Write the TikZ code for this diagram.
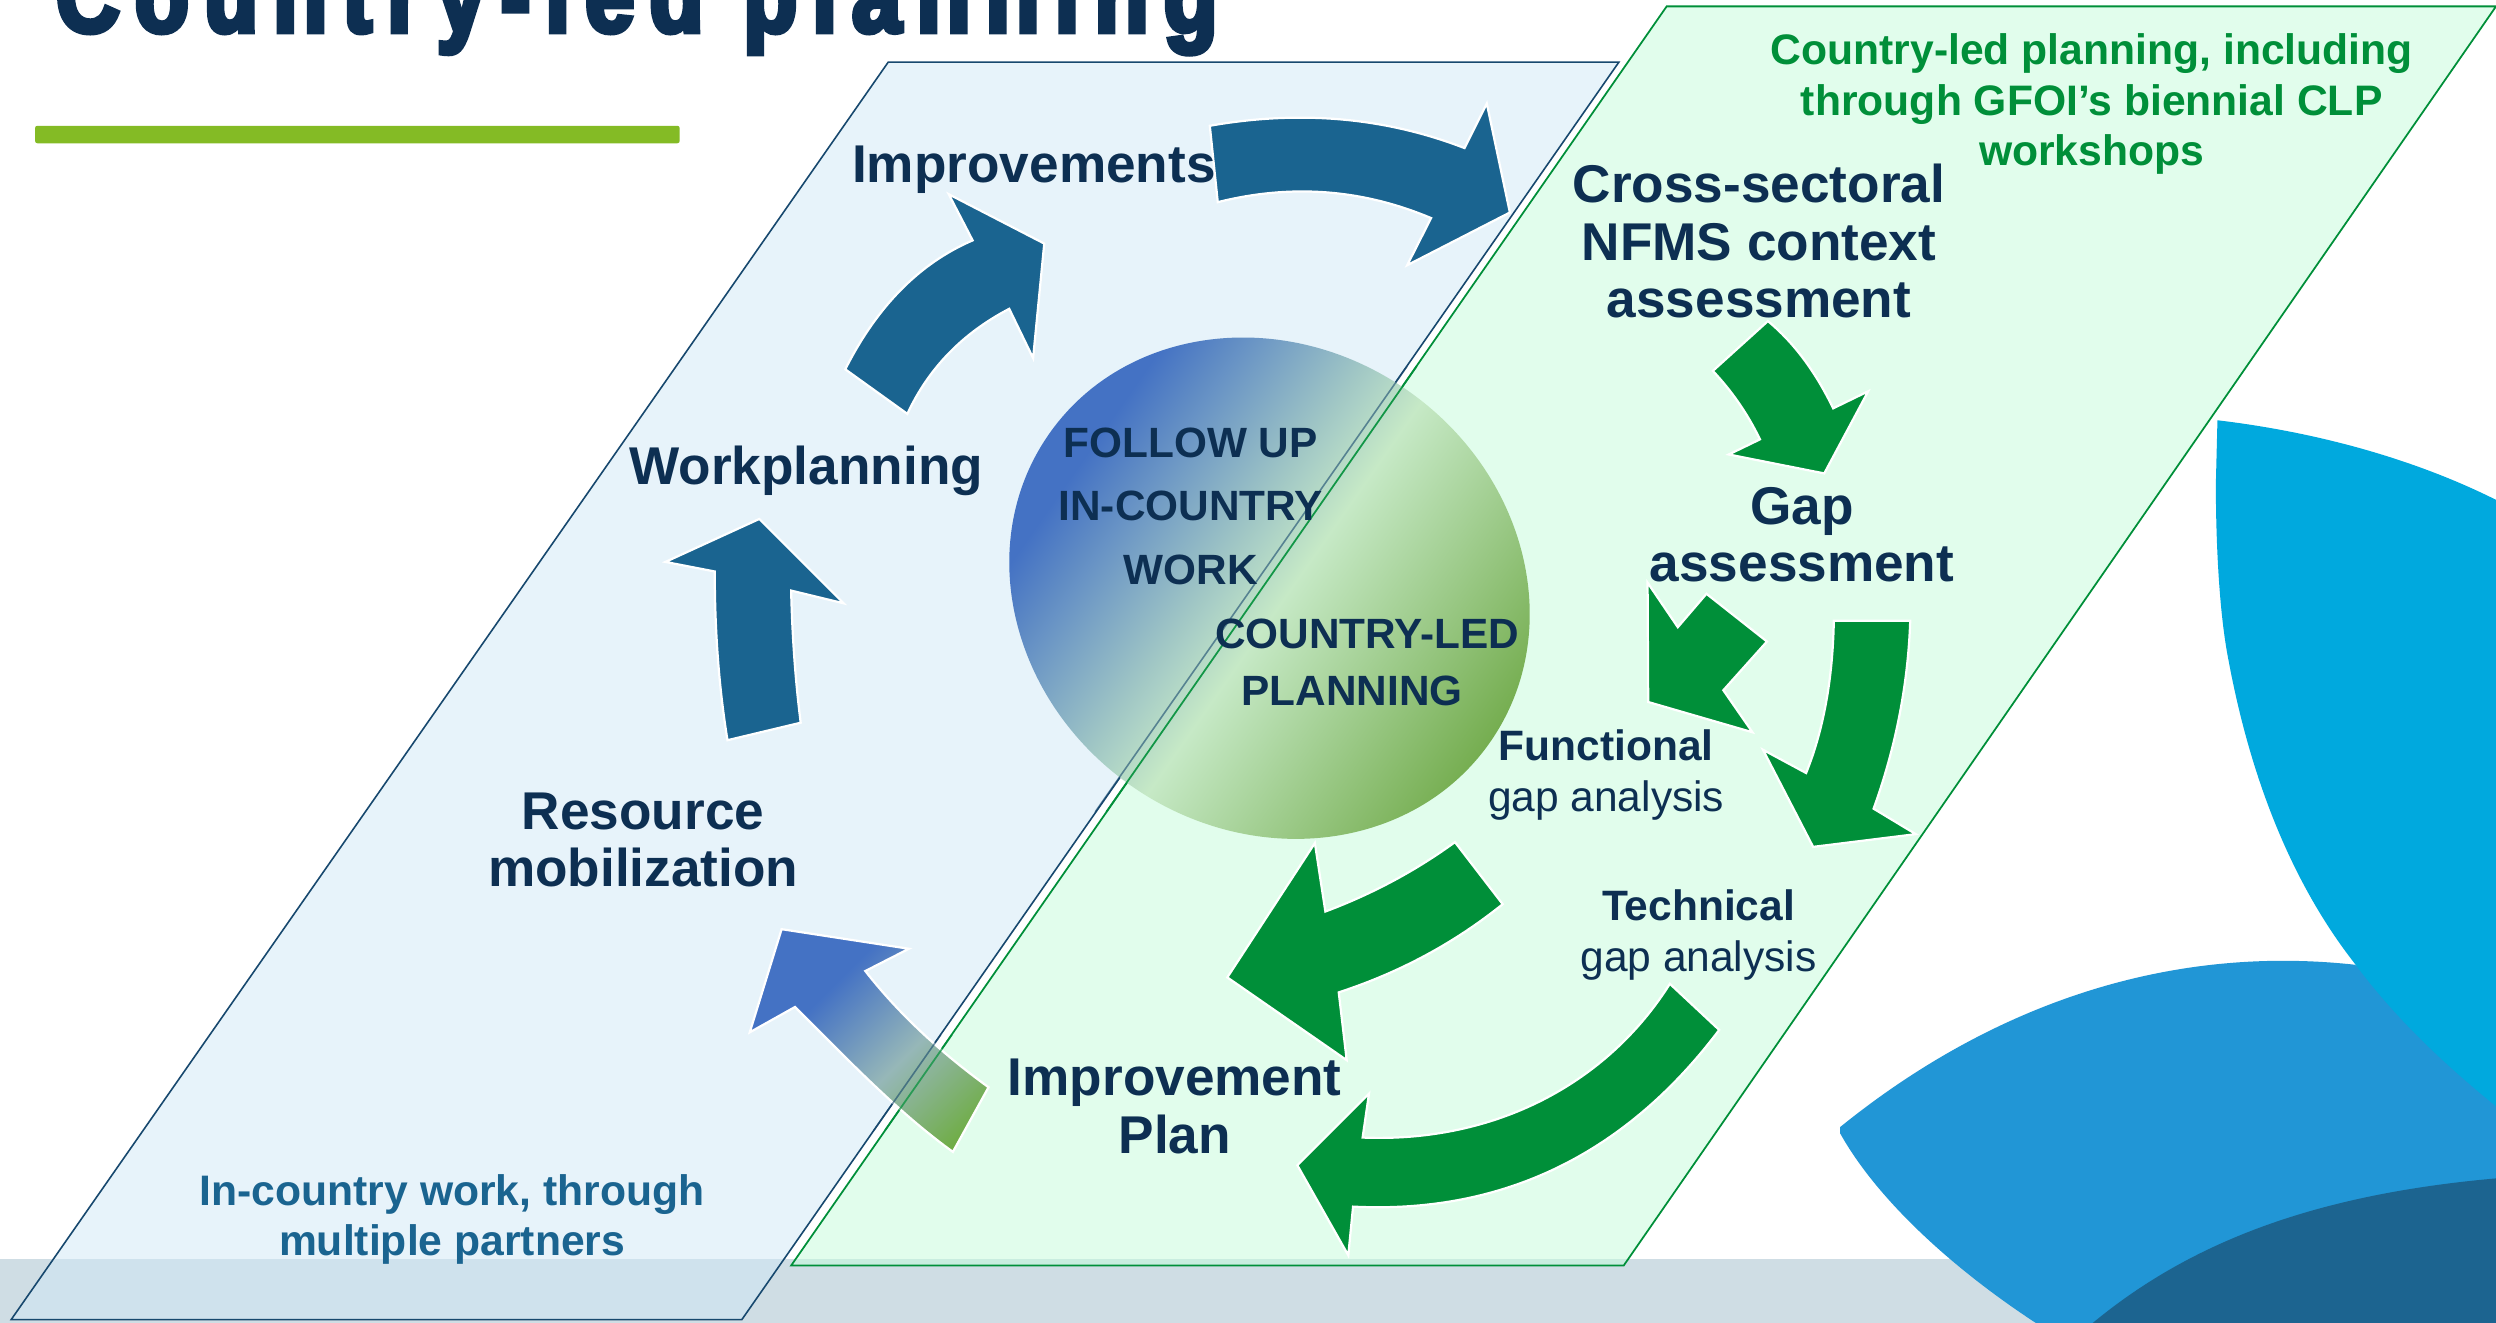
\documentclass[tikz,border=0pt]{standalone}
\usepackage{fontspec}
\setmainfont{Liberation Sans}
\newfontfamily\ttlfont[LetterSpace=14.5,FakeStretch=0.84,FakeBold=5]{Liberation Sans Bold}
\definecolor{navy}{HTML}{0D2F52}
\definecolor{bluearrow}{HTML}{1A6490}
\definecolor{greenarrow}{HTML}{008F39}
\definecolor{bandgrey}{HTML}{CFDDE4}
\definecolor{petalcyan}{HTML}{00A9DE}
\definecolor{petalblue}{HTML}{2196D6}
\definecolor{petaldark}{HTML}{1C6490}
\definecolor{barblue}{HTML}{D0E8F7}
\definecolor{bargreen}{HTML}{C4FDDB}
\definecolor{edgeblue}{HTML}{17486E}
\definecolor{rulegreen}{HTML}{84BB25}
\definecolor{gblue}{HTML}{4472C4}
\definecolor{glight}{HTML}{C6E9C6}
\definecolor{gdark}{HTML}{72AB4B}
\definecolor{ggrey}{HTML}{96B7B8}
\definecolor{garrow}{HTML}{70AD47}
\pgfdeclarehorizontalshading{ballshade}{100bp}{
  color(0bp)=(gblue); color(30.5bp)=(gblue);
  color(51.5bp)=(glight); color(74bp)=(gdark); color(100bp)=(gdark)}
\pgfdeclarehorizontalshading{arrowshade}{100bp}{
  color(0bp)=(gblue); color(36bp)=(gblue);
  color(58bp)=(ggrey); color(79bp)=(garrow); color(100bp)=(garrow)}
\tikzset{
  x=1pt,y=-1pt,
  bluefill/.style={fill=bluearrow,draw=white,line width=1.4pt,line join=miter},
  greenfill/.style={fill=greenarrow,draw=white,line width=1.4pt,line join=miter},
  head/.style={font=\fontsize{33.4}{36}\selectfont\bfseries,text=navy,align=center,inner sep=0pt},
  sub/.style={font=\fontsize{26.7}{32}\selectfont,text=navy,align=center,inner sep=0pt},
  ball/.style={font=\fontsize{26.6}{40}\selectfont\bfseries,text=navy,align=center,inner sep=0pt},
  note/.style={font=\fontsize{26.8}{31.8}\selectfont\bfseries,align=center,inner sep=0pt}
}
\begin{document}
\begin{tikzpicture}
\clip (0,0) rectangle (1568,831);
\fill[white] (0,0) rectangle (1568,831);
% band and petals
\fill[bandgrey] (0,791) rectangle (1568,831);
\fill[petalblue] (1156,708) .. controls (1240,640) and (1350,592) .. (1479,606)
  -- (1600,660) -- (1600,860) -- (1310,860) -- (1285,835) .. controls (1230,800) and (1180,755) .. (1156,712) -- cycle;
\fill[petalcyan] (1393,264) .. controls (1460,272) and (1520,290) .. (1568,314) -- (1600,330) -- (1600,722) -- (1568,695)
  .. controls (1535,668) and (1505,640) .. (1479,605)
  .. controls (1440,555) and (1414,490) .. (1400,415)
  .. controls (1394,385) and (1392,340) .. (1392,304) -- cycle;
\fill[petaldark] (1310,835) .. controls (1380,775) and (1470,745) .. (1600,738) -- (1600,860) -- (1300,860) -- cycle;
% title
\node[anchor=base west,inner sep=0pt,text=navy,font=\fontsize{66}{66}\ttlfont] (title) at (35,20) {Country-led planning};
\node[fill=rulegreen,draw=none,rounded corners=1.5pt,minimum width=405pt,minimum height=11pt,inner sep=0pt] (rule) at (224.5,84.5) {};
% parallelograms
\path[fill=barblue,fill opacity=.5,draw=edgeblue,line width=1pt] (558,39) -- (1017,39) -- (466,829) -- (7,829) -- cycle;
\path[fill=bargreen,fill opacity=.5,draw=greenarrow,line width=1.1pt] (1047,4) -- (1568,4) -- (1020,795) -- (497,795) -- cycle;
% ball
\shade[shading=ballshade,shading angle=-35,rotate around={-35:(797.5,369.5)}] (797.5,369.5) ellipse [x radius=169,y radius=151.5];
\draw[edgeblue,line width=1pt,opacity=.6] (884,230) -- (688,510);
\draw[greenarrow,line width=1.1pt,opacity=.9] (890,230) -- (695,510);
% blue arrows
\path[bluefill] (449,359) .. controls (449,397) and (451.7,432.3) .. (457,465) -- (503,454)
  .. controls (499.7,428) and (497.7,400.3) .. (497,371)
  -- (530,379) -- (477,326) -- (418,353) -- cycle;
\path[bluefill] (531,232) .. controls (551,192.3) and (577.7,165.3) .. (611,151) -- (596,122) -- (656,153) -- (649,225) -- (634,194)
  .. controls (604.7,209.3) and (583.3,231.3) .. (570,260) -- cycle;
\path[bluefill] (760,79) .. controls (816.7,69) and (870,73.7) .. (920,93) -- (934,65) -- (948.5,133.5) -- (884,166.6) -- (899,137)
  .. controls (856.3,119) and (811.7,115.3) .. (765,127) -- cycle;
% gradient arrow
\path[shading=arrowshade,shading angle=-45,draw=white,line width=1.4pt]
  (543.6,610) .. controls (564.5,636.7) and (590.3,660.7) .. (621,683) -- (598.6,723.6)
  .. controls (562.9,697.9) and (530,662.9) .. (499.4,632.6)
  -- (471,648.5) -- (491,583.7) -- (571,596) -- cycle;
\draw[edgeblue,line width=1pt,opacity=.6] (591,650) -- (549,710);
\draw[greenarrow,line width=1.1pt,opacity=.7] (598,650) -- (556,710);
% green arrows
\path[greenfill] (1110.6,201.7) -- (1076,233) .. controls (1088,245.7) and (1097.9,260) .. (1105.6,276) -- (1086,285.5) -- (1146,297.4)
  -- (1173.6,245.8) -- (1151.6,256.5) .. controls (1140.5,233.5) and (1126.9,215.2) .. (1110.6,201.7) -- cycle;
\path[greenfill] (1152,390) .. controls (1151.3,426.7) and (1145.5,458.5) .. (1134.6,485.6) -- (1107.5,471) -- (1139,532) -- (1203.5,524)
  -- (1177,508) .. controls (1191,469.3) and (1198.7,429.3) .. (1200,390) -- cycle;
\path[greenfill] (1035,366) -- (1054,394) -- (1072,373) -- (1110,403) -- (1082.6,433.6) -- (1100.9,460) -- (1035.4,441) -- cycle;
\path[greenfill] (914,529) -- (944,568) .. controls (913.3,592.7) and (879,611) .. (841,623.4) -- (846,666) -- (771,614) -- (826,529.6)
  -- (832.6,572.6) .. controls (862.2,561.5) and (889.3,547) .. (914,529) -- cycle;
\path[greenfill] (1049,618) -- (1080,647) .. controls (1025,720) and (950,763) .. (850,758) -- (847,788.6) -- (815,732)
  -- (860,687) -- (856,714.6) .. controls (940,718) and (1010,680) .. (1049,618) -- cycle;
% text
\node[head] (improvements) at (649.5,106.5) {Improvements};
\node[head] (workplanning) at (506.5,296) {Workplanning};
\node[head] (resource) at (404,527.5) {Resource\\mobilization};
\node[head] (cross) at (1105,151.5) {Cross-sectoral\\NFMS context\\assessment};
\node[head] (gap) at (1132,336) {Gap\\assessment};
\node[head] (plan) at (738,695) {Improvement\\Plan};
\node[sub] (functional) at (1009,487) {\textbf{Functional}\\gap analysis};
\node[sub] (technical) at (1067,587.5) {\textbf{Technical}\\gap analysis};
\node[ball] (follow) at (748,318) {FOLLOW UP\\IN-COUNTRY\\WORK};
\node[ball,font=\fontsize{26.6}{36}\selectfont\bfseries] (clp) at (859,416) {COUNTRY-LED\\PLANNING\hspace*{19pt}};
\node[note,text=greenarrow] (clpnote) at (1314,65.5) {Country-led planning, including\\through GFOI’s biennial CLP\\workshops};
\node[note,text=bluearrow] (countrynote) at (284,766) {In-country work, through\\multiple partners};
\end{tikzpicture}
\end{document}
